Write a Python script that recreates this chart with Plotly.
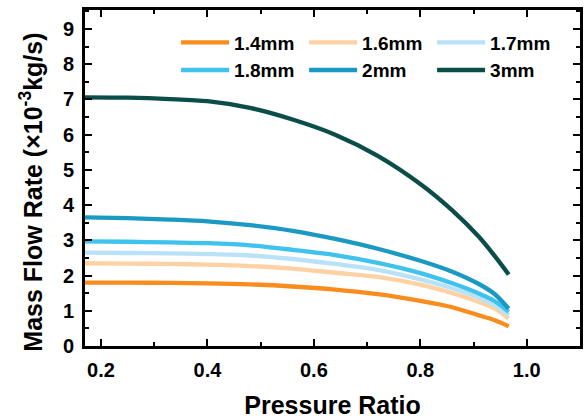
import plotly.graph_objects as go

pressure_ratio = [0.17, 0.25, 0.33, 0.40, 0.48, 0.56, 0.64, 0.72, 0.80, 0.86, 0.91, 0.94, 0.966]

series_names = ["1.4mm", "1.6mm", "1.7mm", "1.8mm", "2mm", "3mm"]
flow_14 = [1.80, 1.80, 1.79, 1.78, 1.75, 1.69, 1.60, 1.47, 1.28, 1.10, 0.87, 0.73, 0.56]
flow_16 = [2.35, 2.34, 2.33, 2.31, 2.27, 2.20, 2.08, 1.96, 1.74, 1.50, 1.25, 1.06, 0.78]
flow_17 = [2.65, 2.64, 2.63, 2.61, 2.57, 2.47, 2.33, 2.16, 1.89, 1.64, 1.38, 1.16, 0.87]
flow_18 = [2.97, 2.96, 2.94, 2.92, 2.86, 2.73, 2.58, 2.36, 2.07, 1.78, 1.49, 1.27, 0.97]
flow_20 = [3.65, 3.63, 3.59, 3.54, 3.43, 3.27, 3.04, 2.76, 2.42, 2.11, 1.76, 1.47, 1.06]
flow_30 = [7.06, 7.05, 7.01, 6.95, 6.76, 6.43, 6.00, 5.40, 4.60, 3.85, 3.10, 2.55, 2.03]

colors = ["#FA8C1E", "#FCD2A4", "#B9E1F7", "#3FC3EE", "#1A9AC2", "#0B4E49"]
all_series = [flow_14, flow_16, flow_17, flow_18, flow_20, flow_30]

x_tick_vals = [0.2, 0.4, 0.6, 0.8, 1.0]
x_tick_text = ["0.2", "0.4", "0.6", "0.8", "1.0"]
y_tick_vals = [0, 1, 2, 3, 4, 5, 6, 7, 8, 9]
x_title = "Pressure Ratio"
y_title = "Mass Flow Rate (×10<sup>-3</sup>kg/s)"

FONT = "Liberation Sans, Arial, sans-serif"

fig = go.Figure()
for name, ys, c in zip(series_names, all_series, colors):
    fig.add_trace(go.Scatter(
        x=pressure_ratio, y=ys, name=name, mode="lines",
        line=dict(color=c, width=4.3, shape="spline", smoothing=0.8),
    ))

axis_common = dict(
    showline=True, linecolor="black", linewidth=3, mirror="ticks",
    ticks="inside", ticklen=7, tickwidth=2, tickcolor="black",
    showgrid=False, zeroline=False, automargin=False,
    tickfont=dict(family=FONT, size=20, color="black", weight="bold"),
)

fig.update_xaxes(
    range=[0.17, 1.1], tickvals=x_tick_vals, ticktext=x_tick_text,
    ticklabelstandoff=4,
    minor=dict(ticks="inside", dtick=0.1, tick0=0.1, ticklen=4, tickwidth=1.5, tickcolor="black"),
    title=dict(text="<b>" + x_title + "</b>", font=dict(family=FONT, size=25, color="black"), standoff=17),
    **axis_common,
)
fig.update_yaxes(
    range=[0, 9.54], tickvals=y_tick_vals,
    ticklabelstandoff=4,
    minor=dict(ticks="inside", dtick=0.5, tick0=0, ticklen=4, tickwidth=1.5, tickcolor="black"),
    **axis_common,
)

fig.add_annotation(
    text="<b>" + y_title + "</b>", textangle=-90,
    xref="paper", yref="paper", x=-0.108, y=0.458,
    xanchor="center", yanchor="middle", showarrow=False,
    font=dict(family=FONT, size=25, color="black"),
)

fig.update_layout(
    width=585, height=419,
    margin=dict(l=85, r=5, t=10, b=73),
    plot_bgcolor="white", paper_bgcolor="white",
    legend=dict(
        orientation="h", x=0.184, y=0.96, xanchor="left", yanchor="top",
        entrywidth=65, entrywidthmode="pixels",
        font=dict(family=FONT, size=19, color="black", weight="bold"),
        bgcolor="rgba(0,0,0,0)", itemwidth=48, tracegroupgap=0,
    ),
)

fig.write_html("out.html")
